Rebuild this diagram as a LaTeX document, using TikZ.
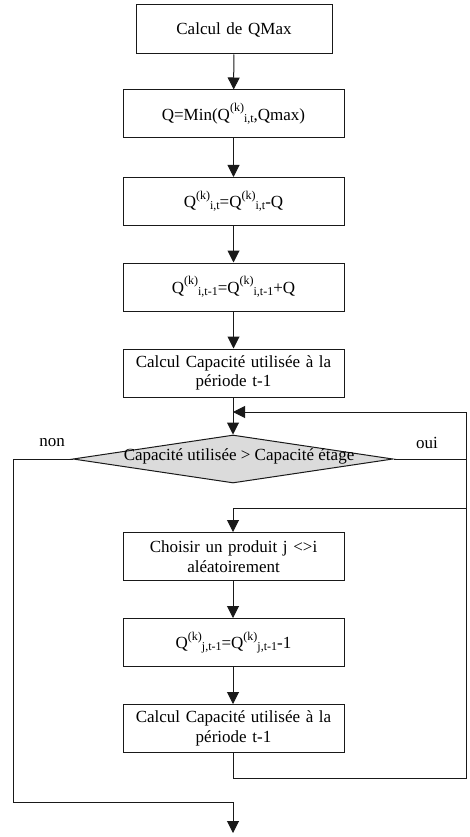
\documentclass[tikz,border=0pt]{standalone}
\usepackage{fontspec}
\setmainfont{Liberation Serif}
\usetikzlibrary{arrows.meta,shapes.geometric}
\newcommand{\Qk}[1]{Q\raisebox{8.5pt}{\fontsize{12}{12}\selectfont(k)}\raisebox{-2pt}{\fontsize{12}{12}\selectfont #1}}
\begin{document}
\begin{tikzpicture}[x=1pt,y=-1pt,
  every node/.style={font=\fontsize{17}{19.5}\selectfont},
  box/.style={draw=black!90,line width=1pt,rectangle,minimum width=221pt,minimum height=48pt,inner sep=2pt,align=center,text width=215pt},
  cond/.style={draw=black!90,line width=1pt,diamond,fill=black!14,minimum width=320pt,minimum height=48pt,inner sep=0pt},
  link/.style={draw=black!90,line width=1pt},
  arr/.style={link,-{Triangle[length=12pt,width=12pt]}},
  lbl/.style={inner sep=0pt}]
\useasboundingbox (0,0) rectangle (469,837);
\node[box,minimum width=196pt,text width=190pt,minimum height=49pt] (b1) at (234,29.5) {Calcul de QMax};
\node[box] (b2) at (233.5,114) {Q=Min(\Qk{i,t},Qmax)};
\node[box] (b3) at (233.5,201.5) {\Qk{i,t}=\Qk{i,t}-Q};
\node[box] (b4) at (233.5,287) {\Qk{i,t-1}=\Qk{i,t-1}+Q};
\node[box] (b5) at (233.5,373) {Calcul Capacité utilisée à la\\période t-1};
\node[cond] (d) at (233,459) {};
\node[lbl] (dt) at (239,456) {Capacité utilisée > Capacité étage};
\node[lbl] (non) at (52,443) {non};
\node[lbl] (oui) at (427,443) {oui};
\node[box] (b6) at (233.5,556.5) {Choisir un produit j <>i\\aléatoirement};
\node[box] (b7) at (233.5,642.5) {\Qk{j,t-1}=\Qk{j,t-1}-1};
\node[box] (b8) at (233.5,728.5) {Calcul Capacité utilisée à la\\période t-1};
\coordinate (mrg) at (233,412);
\coordinate (mro) at (233,508);
\coordinate (mrn) at (233,802);
\coordinate (endp) at (233,833);
\draw[arr] (b1) -- (b2);
\draw[arr] (b2) -- (b3);
\draw[arr] (b3) -- (b4);
\draw[arr] (b4) -- (b5);
\draw[arr] (b5.south -| d.north) -- (d.north);
\draw[link] (d.east) -- (466,459) -- (466,508) -- (mro);
\draw[arr] (mro) -- (b6.north -| mro);
\draw[arr] (b6.south -| mro) -- (b7.north -| mro);
\draw[arr] (b7.south -| mro) -- (b8.north -| mro);
\draw[link] (b8.south -| mro) -- (233,778) -- (466,778) -- (466,412);
\draw[arr] (466,412) -- (mrg);
\draw[link] (d.west) -- (13,459) -- (13,802) -- (mrn);
\draw[arr] (mrn) -- (endp);
\end{tikzpicture}
\end{document}
